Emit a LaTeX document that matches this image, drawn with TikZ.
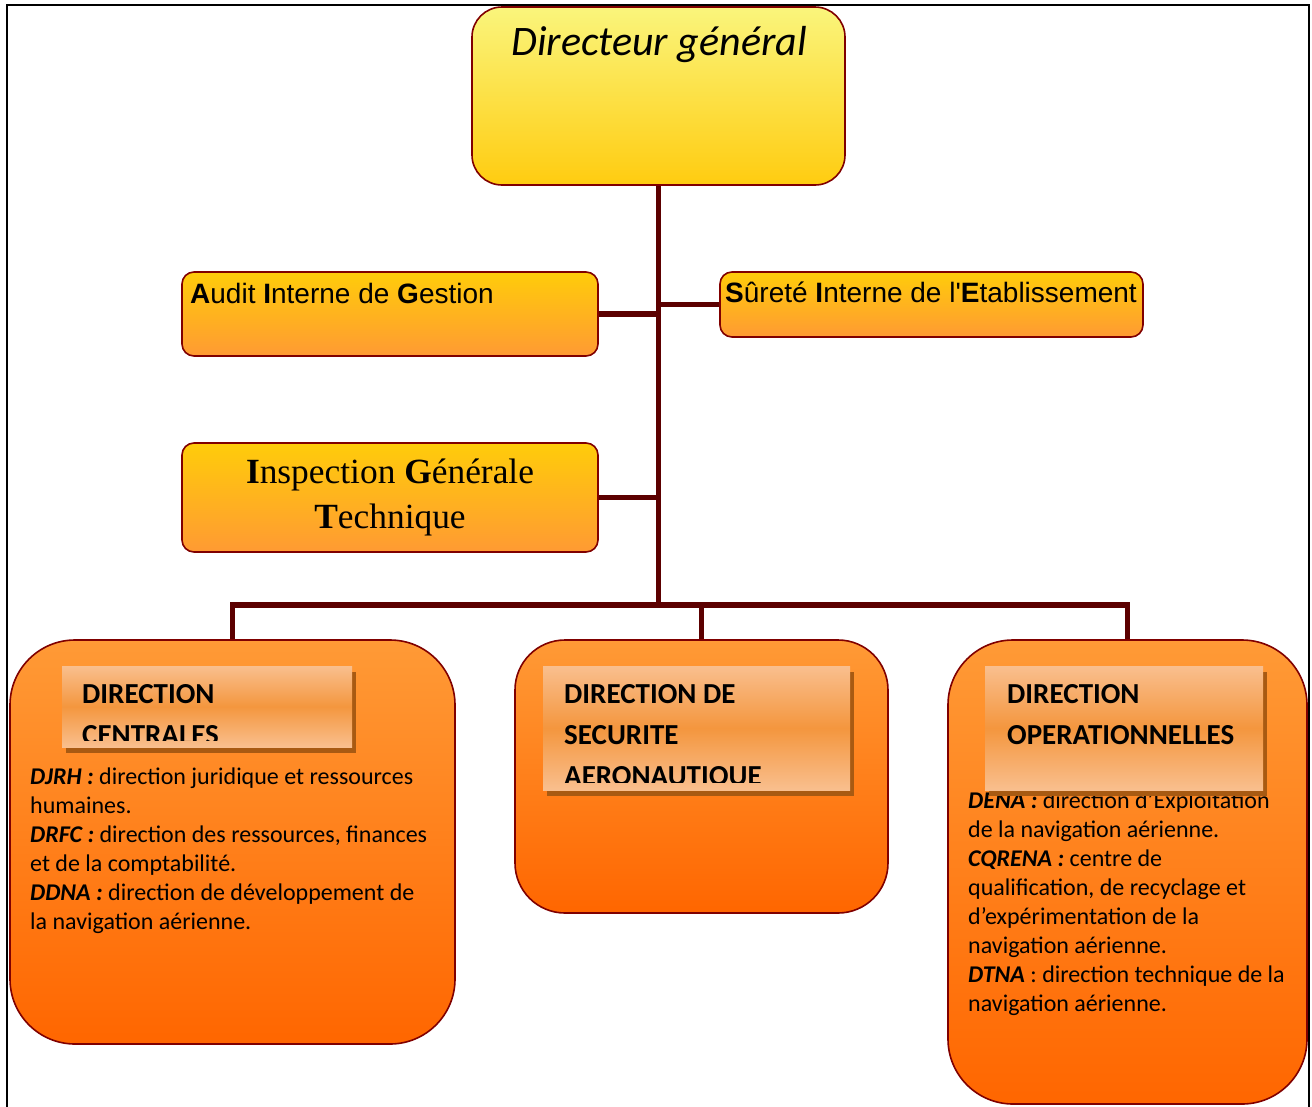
\documentclass[tikz,border=0pt]{standalone}
\usepackage{fontspec}
\setmainfont{Carlito}
\newfontfamily\arialf{Liberation Sans}
\newfontfamily\timesf{Liberation Serif}
\usetikzlibrary{shadows,calc}
\pgfdeclarelayer{bg}
\pgfsetlayers{bg,main}
\definecolor{bord}{HTML}{800000}
\definecolor{conncol}{HTML}{5C0000}
\definecolor{ylwtop}{HTML}{FAF57C}
\definecolor{ylwbot}{HTML}{FFCC10}
\definecolor{goldtop}{HTML}{FFCC0A}
\definecolor{goldbot}{HTML}{FF9A33}
\definecolor{orgtop}{HTML}{FF9A36}
\definecolor{orgbot}{HTML}{FF6600}
\definecolor{peach}{HTML}{F9BF8E}
\definecolor{peachmid}{HTML}{F4963E}
\definecolor{shad}{HTML}{A85A12}
\begin{document}
\begin{tikzpicture}[x=1pt,y=-1pt,
  box/.style={draw=bord, line width=1.6pt, inner sep=0pt, outer sep=0pt},
  dgbox/.style={box, rounded corners=30pt, top color=ylwtop, bottom color=ylwbot},
  gbox/.style={box, rounded corners=12pt, top color=goldtop, bottom color=goldbot},
  obox/.style={box, top color=orgtop, bottom color=orgbot},
  tbox/.style={inner sep=0pt, outer sep=0pt, top color=peach, bottom color=peach, middle color=peachmid,
    general shadow={fill=shad, shadow xshift=3.5pt, shadow yshift=-6pt}},
  conn/.style={conncol, line width=5.5pt},
  txt/.style={inner sep=0pt, anchor=base west, align=left},
  titlefont/.style={font=\bfseries\fontsize{29}{41}\selectfont},
  bodyfont/.style={font=\fontsize{24}{29}\selectfont},
  arialfont/.style={font=\arialf\fontsize{28}{32}\selectfont}]
\useasboundingbox (0,0) rectangle (1312,1106);
\begin{pgfonlayer}{bg}
  \fill[white] (0,0) rectangle (1312,1106);
\end{pgfonlayer}
\draw[line width=2.5pt] (7,1112) -- (7,5) -- (1309,5) -- (1309,1112);

% top boxes
\node[dgbox, minimum width=373pt, minimum height=178pt] (dg) at (658.5,96) {};
\node[anchor=base, inner sep=0pt, font=\fontsize{42}{50}\selectfont\itshape] (dgt) at (659,55) {Directeur général};

\node[gbox, minimum width=416pt, minimum height=84pt] (audit) at (390,314) {};
\node[txt, arialfont] (auditt) at (190,303) {\textbf{A}udit \textbf{I}nterne de \textbf{G}estion};

\node[gbox, minimum width=423pt, minimum height=65pt] (surete) at (931.5,304.5) {};
\node[txt, arialfont] (suretet) at (725,302) {\textbf{S}ûreté \textbf{I}nterne de l'\textbf{E}tablissement};

\node[gbox, minimum width=416pt, minimum height=109pt] (insp) at (390,497.5) {};
\node[anchor=base, inner sep=0pt, align=center, font=\timesf\fontsize{35.4}{45}\selectfont] (inspt) at (390,528)
  {\textbf{I}nspection \textbf{G}énérale\\\textbf{T}echnique};

% bottom boxes
\node[obox, rounded corners=65pt, minimum width=445pt, minimum height=404pt] (lbox) at (232.5,842) {};
\node[obox, rounded corners=50pt, minimum width=373pt, minimum height=273pt] (mbox) at (701.5,776.5) {};
\node[obox, rounded corners=65pt, minimum width=359pt, minimum height=464pt] (rbox) at (1127.5,872) {};

\node[txt, bodyfont] (ltext) at (30,929)
  {\textbf{\textit{DJRH :}} direction juridique et ressources\\humaines.\\
   \textbf{\textit{DRFC :}} direction des ressources, finances\\et de la comptabilité.\\
   \textbf{\textit{DDNA :}} direction de développement de\\la navigation aérienne.};
\node[txt, bodyfont] (rtext) at (968,1011)
  {\textbf{\textit{DENA :}} direction d’Exploitation\\de la navigation aérienne.\\
   \textbf{\textit{CQRENA :}} centre de\\qualification, de recyclage et\\d’expérimentation de la\\navigation aérienne.\\
   \textbf{\textit{DTNA}} : direction technique de la\\navigation aérienne.};

% title boxes
\node[tbox, minimum width=290pt, minimum height=81pt] (ltitle) at (207,706.5) {};
\node[tbox, minimum width=307pt, minimum height=124pt] (mtitle) at (696.5,728) {};
\node[tbox, minimum width=278pt, minimum height=124pt] (rtitle) at (1124,728) {};

\begin{scope}
  \clip (62,666) rectangle (352,740);
  \node[txt, titlefont] (ltt) at (82,744) {DIRECTION\\CENTRALES};
\end{scope}
\begin{scope}
  \clip (543,666) rectangle (850,782);
  \node[txt, titlefont] (mtt) at (564,785) {DIRECTION DE\\SECURITE\\AERONAUTIQUE};
\end{scope}
\node[txt, titlefont] (rtt) at (1007,744) {DIRECTION\\OPERATIONNELLES};

% connectors
\begin{pgfonlayer}{bg}
  \path (dg.south) ++(0,420) coordinate (bus);
  \draw[conn] (dg.south) -- (bus);
  \draw[conn] (lbox.north) |- (bus) -| (rbox.north);
  \draw[conn] (mbox.north) -- (mbox.north |- bus);
  \draw[conn] (audit.east) -- (audit.east -| bus);
  \draw[conn] (surete.west) -- (surete.west -| bus);
  \draw[conn] (insp.east) -- (insp.east -| bus);
\end{pgfonlayer}
\end{tikzpicture}
\end{document}
